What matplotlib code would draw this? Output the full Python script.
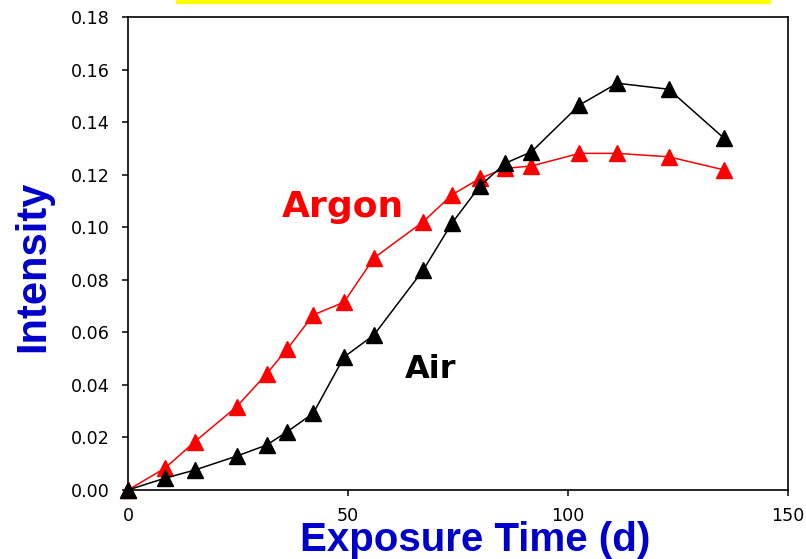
import matplotlib.pyplot as plt
from matplotlib.patches import Rectangle

# exposure time (days) and intensity values
time_d = [0, 8.4, 15.2, 24.7, 31.5, 36.2, 42.1, 49.1, 55.9, 67.1,
          73.6, 80.0, 85.7, 91.7, 102.6, 111.2, 122.9, 135.5]
argon = [0.0, 0.0083, 0.0184, 0.0317, 0.0442, 0.0537, 0.0666, 0.0715, 0.0883, 0.1021,
         0.1123, 0.1186, 0.1224, 0.1233, 0.1281, 0.1281, 0.1268, 0.1218]
air = [0.0, 0.0045, 0.0076, 0.0129, 0.0171, 0.0222, 0.0292, 0.0506, 0.0590, 0.0837,
       0.1015, 0.1157, 0.1243, 0.1287, 0.1465, 0.1548, 0.1525, 0.1338]

x_ticks = [0, 50, 100, 150]
y_ticks = [0.00, 0.02, 0.04, 0.06, 0.08, 0.10, 0.12, 0.14, 0.16, 0.18]

W, H = 806, 559
fig = plt.figure(figsize=(W / 100, H / 100), dpi=100)
ax = fig.add_axes([128 / W, 1 - 490 / H, 660 / W, 473 / H])

ax.plot(time_d, argon, color='#FF0000', lw=1.1, marker='^', ms=11.5,
        mec='#FF0000', mfc='#FF0000', clip_on=False, zorder=3)
ax.plot(time_d, air, color='black', lw=1.1, marker='^', ms=11.5,
        mec='black', mfc='black', clip_on=False, zorder=4)

ax.set_xlim(0, 150)
ax.set_ylim(0, 0.18)
ax.set_xticks(x_ticks)
ax.set_yticks(y_ticks)
ax.set_xticklabels([str(v) for v in x_ticks])
ax.set_yticklabels(['%.2f' % v for v in y_ticks])

for s in ax.spines.values():
    s.set_linewidth(1.2)
ax.tick_params(direction='out', length=4.5, width=1.1, labelsize=12.6)
ax.tick_params(axis='y', pad=8.5)
ax.tick_params(axis='x', pad=8)
for lbl in ax.get_xticklabels() + ax.get_yticklabels():
    lbl.set_family('DejaVu Sans')

# in-plot series labels
ax.text(35.0, 0.1039, 'Argon', color='#FF0000', fontsize=26, fontweight='bold',
        family='DejaVu Sans', ha='left', va='baseline')
ax.text(63.0, 0.0426, 'Air', color='black', fontsize=23, fontweight='bold',
        family='DejaVu Sans', ha='left', va='baseline')

# axis titles
fig.text(475 / W, 1 - 551 / H, 'Exposure Time (d)', color='#0000CC', fontsize=29,
         fontweight='bold', family='Liberation Sans', ha='center', va='baseline')
fig.text(13 / W, 1 - 266.5 / H, 'Intensity', color='#0000CC', fontsize=30,
         fontweight='bold', family='Liberation Sans', rotation=90,
         ha='left', va='center')

# yellow strip along the top edge
fig.patches.append(Rectangle((176 / W, 1 - 3 / H), 594 / W, 3 / H,
                             transform=fig.transFigure, color='#FFFF00'))

fig.savefig('out.png', dpi=100)
